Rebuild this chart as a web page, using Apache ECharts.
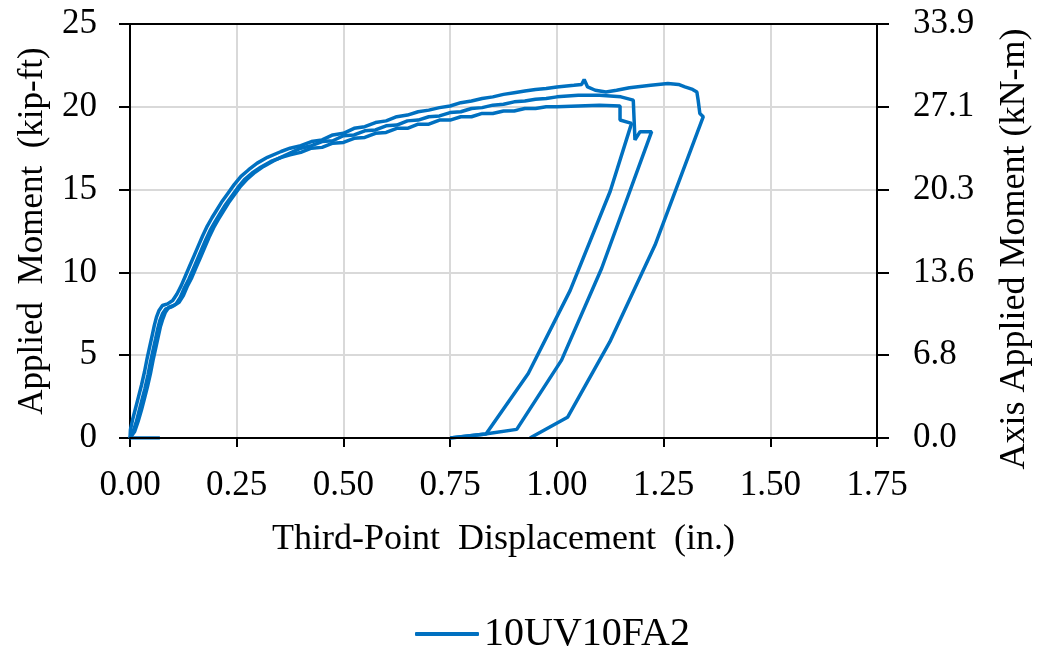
<!DOCTYPE html>
<html>
<head>
<meta charset="utf-8">
<script src="https://cdn.jsdelivr.net/npm/echarts@6/dist/echarts.min.js"></script>
<style>html,body{margin:0;padding:0;background:#fff}#c{width:1038px;height:648px}</style>
</head>
<body>
<div id="c"></div>
<script>
var seriesName = '10UV10FA2';
var xTickLabels = ['0.00','0.25','0.50','0.75','1.00','1.25','1.50','1.75'];
var leftTickLabels = ['0','5','10','15','20','25'];
var rightTickLabels = ['0.0','6.8','13.6','20.3','27.1','33.9'];

// cycle 1 (lowest plateau) then unloading
var cycle1 = [[0.07,0],[0,0],[0.006,0.3],[0.014,0.9],[0.021,1.6],[0.028,2.3],[0.035,3.0],[0.042,3.8],[0.048,4.6],[0.054,5.3],[0.060,6.0],[0.065,6.6],[0.070,7.1],[0.076,7.5],[0.084,7.8],[0.096,7.9],[0.108,8.1],[0.118,8.5],[0.128,9.1],[0.138,9.6],[0.148,10.2],[0.158,10.8],[0.168,11.4],[0.178,12.0],[0.189,12.6],[0.200,13.1],[0.212,13.6],[0.224,14.1],[0.238,14.6],[0.252,15.1],[0.268,15.6],[0.286,16.0],[0.306,16.35],[0.330,16.7],[0.355,16.95],[0.375,17.1],[0.400,17.25],[0.425,17.5],[0.450,17.55],[0.475,17.8],[0.500,17.85],[0.525,18.1],[0.550,18.15],[0.575,18.4],[0.600,18.45],[0.625,18.7],[0.650,18.7],[0.675,18.95],[0.700,18.95],[0.725,19.2],[0.750,19.2],[0.775,19.4],[0.800,19.4],[0.825,19.6],[0.850,19.6],[0.875,19.75],[0.900,19.75],[0.925,19.9],[0.950,19.9],[0.975,20.0],[1.000,20.0],[1.050,20.05],[1.100,20.1],[1.148,20.05],[1.148,19.2],[1.175,19.0],[1.125,14.9],[1.031,8.9],[0.933,3.9],[0.834,0.24],[0.75,0]];
// cycle 2 (middle plateau) then unloading
var cycle2 = [[0,0],[0.011,0.4],[0.019,1.0],[0.027,1.7],[0.034,2.4],[0.041,3.1],[0.048,3.9],[0.054,4.7],[0.060,5.4],[0.066,6.1],[0.071,6.7],[0.077,7.2],[0.083,7.6],[0.091,7.9],[0.103,8.0],[0.115,8.2],[0.125,8.6],[0.135,9.2],[0.145,9.7],[0.155,10.3],[0.165,10.9],[0.175,11.5],[0.185,12.1],[0.196,12.7],[0.207,13.2],[0.219,13.7],[0.231,14.2],[0.245,14.7],[0.259,15.2],[0.275,15.65],[0.293,16.05],[0.313,16.4],[0.337,16.75],[0.366,17.1],[0.400,17.5],[0.425,17.65],[0.450,17.9],[0.475,17.95],[0.500,18.25],[0.525,18.3],[0.550,18.55],[0.575,18.6],[0.600,18.85],[0.625,18.9],[0.650,19.15],[0.675,19.2],[0.700,19.4],[0.725,19.45],[0.750,19.65],[0.775,19.7],[0.800,19.9],[0.825,19.95],[0.850,20.1],[0.875,20.15],[0.900,20.3],[0.925,20.35],[0.950,20.45],[0.975,20.5],[1.000,20.6],[1.050,20.7],[1.100,20.7],[1.150,20.6],[1.179,20.4],[1.181,19.2],[1.183,18.0],[1.195,18.5],[1.222,18.5],[1.105,10.25],[1.011,4.7],[0.906,0.52],[0.832,0.24],[0.75,0]];
// cycle 3 (highest plateau) then unloading
var cycle3 = [[0,0],[0.001,0.5],[0.006,1.1],[0.013,1.8],[0.020,2.5],[0.027,3.2],[0.034,4.0],[0.040,4.8],[0.046,5.5],[0.052,6.2],[0.057,6.8],[0.062,7.3],[0.068,7.7],[0.076,8.0],[0.088,8.1],[0.100,8.3],[0.110,8.7],[0.120,9.2],[0.130,9.8],[0.140,10.4],[0.150,11.0],[0.160,11.6],[0.170,12.2],[0.181,12.8],[0.192,13.3],[0.204,13.8],[0.216,14.3],[0.230,14.8],[0.244,15.3],[0.260,15.8],[0.278,16.2],[0.298,16.6],[0.322,16.95],[0.354,17.3],[0.375,17.5],[0.400,17.65],[0.425,17.9],[0.450,18.0],[0.475,18.3],[0.500,18.4],[0.525,18.7],[0.550,18.8],[0.575,19.05],[0.600,19.15],[0.625,19.4],[0.650,19.5],[0.675,19.7],[0.700,19.8],[0.725,19.95],[0.750,20.05],[0.775,20.25],[0.800,20.35],[0.825,20.5],[0.850,20.6],[0.875,20.75],[0.900,20.85],[0.925,20.95],[0.950,21.05],[0.975,21.1],[1.000,21.2],[1.040,21.3],[1.058,21.35],[1.064,21.65],[1.072,21.2],[1.090,21.0],[1.115,20.9],[1.140,21.0],[1.170,21.15],[1.220,21.3],[1.260,21.4],[1.285,21.35],[1.300,21.2],[1.318,21.05],[1.328,20.9],[1.331,20.4],[1.335,19.6],[1.343,19.4],[1.230,11.65],[1.124,5.8],[1.025,1.25],[0.937,0]];

var FONT = 'Liberation Serif';
var BLUE = '#0070C0';
var chart = echarts.init(document.getElementById('c'), null, {renderer:'canvas'});

function mkSeries(d){
  return {name: seriesName, type:'line', data:d, xAxisIndex:0, yAxisIndex:0,
    showSymbol:false, symbol:'none', animation:false, z:2,
    lineStyle:{color:BLUE, width:3.5}, itemStyle:{color:BLUE}};
}

chart.setOption({
  animation:false,
  backgroundColor:'#fff',
  grid:{left:130, right:161, top:24, bottom:210, containLabel:false, outerBoundsMode:'none'},
  legend:{data:[{name:seriesName, icon:'roundRect'}], left:410, top:609, itemWidth:64, itemHeight:4, itemGap:10,
    textStyle:{fontFamily:FONT, fontSize:40, color:'#000'}},
  xAxis:[{
    type:'value', min:0, max:1.75, interval:0.25, position:'bottom', z:0,
    axisLine:{show:false},
    axisTick:{show:true, length:9, lineStyle:{color:'#000', width:2}},
    axisLabel:{fontFamily:FONT, fontSize:35, color:'#000', margin:30,
      formatter:function(v){ return xTickLabels[Math.round(v/0.25)]; }},
    splitLine:{show:true, lineStyle:{color:'#d9d9d9', width:2}},
    name:'Third-Point  Displacement  (in.)', nameLocation:'middle', nameGap:84,
    nameTextStyle:{fontFamily:FONT, fontSize:36, color:'#000'}
  },{
    type:'value', min:0, max:1.75, position:'bottom', z:5,
    axisLine:{show:true, onZero:false, lineStyle:{color:'#000', width:2}},
    axisTick:{show:false}, axisLabel:{show:false}, splitLine:{show:false}
  },{
    type:'value', min:0, max:1.75, position:'top', z:5,
    axisLine:{show:true, onZero:false, lineStyle:{color:'#000', width:2}},
    axisTick:{show:false}, axisLabel:{show:false}, splitLine:{show:false}
  }],
  yAxis:[{
    type:'value', min:0, max:25, interval:5, position:'left',
    axisLine:{show:true, onZero:false, lineStyle:{color:'#000', width:2}},
    axisTick:{show:true, length:11, lineStyle:{color:'#000', width:2}},
    axisLabel:{fontFamily:FONT, fontSize:35, color:'#000', margin:33,
      formatter:function(v){ return leftTickLabels[Math.round(v/5)]; }},
    splitLine:{show:true, lineStyle:{color:'#d9d9d9', width:2}},
    name:'Applied  Moment  (kip-ft)', nameLocation:'middle', nameGap:80,
    nameTextStyle:{fontFamily:FONT, fontSize:35, color:'#000'}
  },{
    type:'value', min:0, max:25, interval:5, position:'right',
    axisLine:{show:true, onZero:false, lineStyle:{color:'#000', width:2}},
    axisTick:{show:true, length:12, lineStyle:{color:'#000', width:2}},
    axisLabel:{fontFamily:FONT, fontSize:35, color:'#000', margin:36,
      formatter:function(v){ return rightTickLabels[Math.round(v/5)]; }},
    splitLine:{show:false},
    name:'Axis Applied Moment (kN-m)    ', nameLocation:'middle', nameGap:120, nameRotate:90,
    nameTextStyle:{fontFamily:FONT, fontSize:36, color:'#000'}
  }],
  series:[mkSeries(cycle1), mkSeries(cycle2), mkSeries(cycle3)]
});
</script>
</body>
</html>
